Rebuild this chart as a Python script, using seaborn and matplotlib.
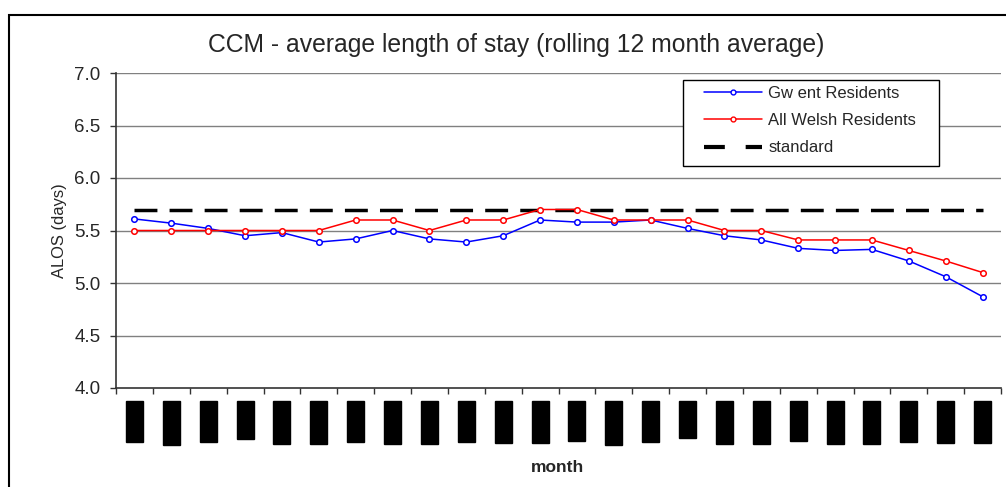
import matplotlib
matplotlib.use('Agg')
import matplotlib.pyplot as plt
from matplotlib.patches import Rectangle
from matplotlib.lines import Line2D
import seaborn as sns
import pandas as pd
import numpy as np

# Chart data
months = ['Apr-06', 'May-06', 'Jun-06', 'Jul-06', 'Aug-06', 'Sep-06', 'Oct-06', 'Nov-06',
          'Dec-06', 'Jan-07', 'Feb-07', 'Mar-07', 'Apr-07', 'May-07', 'Jun-07', 'Jul-07',
          'Aug-07', 'Sep-07', 'Oct-07', 'Nov-07', 'Dec-07', 'Jan-08', 'Feb-08', 'Mar-08']
gwent = [5.61, 5.57, 5.52, 5.45, 5.48, 5.39, 5.42, 5.50, 5.42, 5.39, 5.45, 5.60,
         5.58, 5.58, 5.60, 5.52, 5.45, 5.41, 5.33, 5.31, 5.32, 5.21, 5.06, 4.87]
all_wales = [5.50, 5.50, 5.50, 5.50, 5.50, 5.50, 5.60, 5.60, 5.50, 5.60, 5.60, 5.70,
             5.70, 5.60, 5.60, 5.60, 5.50, 5.50, 5.41, 5.41, 5.41, 5.31, 5.21, 5.10]
standard = [5.7] * len(months)

series_names = ['Gw ent Residents', 'All Welsh Residents']
series_colors = ['#0000FF', '#FF0000']

df = pd.DataFrame({
    'month': months * 2,
    'alos': gwent + all_wales,
    'series': [series_names[0]] * len(months) + [series_names[1]] * len(months),
})
df_std = pd.DataFrame({'month': months, 'alos': standard})

sns.set_style('white')
plt.rcParams['font.family'] = ['Liberation Sans', 'DejaVu Sans']

W, H = 1006, 487
fig = plt.figure(figsize=(W / 100, H / 100), dpi=100)
ax = fig.add_axes([116 / W, 1 - 388 / H, 885 / W, 315 / H])

# grid lines
for yv in np.arange(4.5, 7.01, 0.5):
    ax.axhline(yv, color='#808080', lw=1, zorder=0)

dash = (0, (6.6, 3.5))
sns.lineplot(data=df_std, x='month', y='alos', ax=ax, color='black', lw=2.5,
             linestyle=dash, sort=False, legend=False, zorder=2)
sns.lineplot(data=df, x='month', y='alos', hue='series', palette=series_colors,
             ax=ax, lw=1.1, marker='o', markersize=4, markerfacecolor='white',
             markeredgewidth=1.1, sort=False, legend=False, zorder=3)
for line, c in zip(ax.lines[-2:], series_colors):
    line.set_markeredgecolor(c)

ax.set_ylim(4.0, 7.0)
ax.set_xlim(-0.5, len(months) - 0.5)
ax.set_yticks(np.arange(4.0, 7.01, 0.5))
ax.set_yticklabels([f'{v:.1f}' for v in np.arange(4.0, 7.01, 0.5)], fontsize=13.5)

# ticks on category boundaries, labels at centers
ax.set_xticks(np.arange(-0.5, len(months), 1.0))
ax.set_xticklabels([])
ax.set_xticks(np.arange(len(months)), minor=True)
ax.set_xticklabels(months, minor=True, rotation=90, fontsize=8, color='black',
                   va='top', ha='center')
for lbl in ax.get_xticklabels(minor=True):
    lbl.set_bbox(dict(facecolor='black', edgecolor='black', pad=2.5))
ax.tick_params(axis='x', which='major', direction='out', length=4, width=1,
               color='#333333', bottom=True)
ax.tick_params(axis='x', which='minor', length=0, pad=12)
ax.tick_params(axis='y', direction='out', length=4, width=1, color='#333333',
               left=True, pad=7)

for s in ['top', 'right']:
    ax.spines[s].set_visible(False)
for s in ['left', 'bottom']:
    ax.spines[s].set_color('#333333')
    ax.spines[s].set_linewidth(1.2)

ax.set_xlabel('month', fontsize=12.5, fontweight='bold')
ax.xaxis.set_label_coords((558 - 116) / 885, -0.228)
ax.set_ylabel('ALOS (days)', fontsize=11.9)
ax.yaxis.set_label_coords(-0.055, 0.5)

fig.text(516 / W, 1 - 45 / H, 'CCM - average length of stay (rolling 12 month average)',
         ha='center', va='center', fontsize=17.8)

# legend: entries without frame, frame drawn separately
handles = [
    Line2D([], [], color=series_colors[0], lw=1.1, marker='o', markersize=3.5,
           markerfacecolor='white', markeredgecolor=series_colors[0]),
    Line2D([], [], color=series_colors[1], lw=1.1, marker='o', markersize=3.5,
           markerfacecolor='white', markeredgecolor=series_colors[1]),
    Line2D([], [], color='black', lw=3, linestyle=(0, (5, 5))),
]
leg = ax.legend(handles, series_names + ['standard'], loc='upper left',
                bbox_to_anchor=((696 - 116) / 885, (388 - 78) / 315),
                fontsize=12, frameon=False, handlelength=3.5,
                borderpad=0.45, labelspacing=0.75, handletextpad=0.4,
                borderaxespad=0)
ax.add_patch(Rectangle(((683 - 116) / 885, (388 - 166) / 315), 256 / 885, 86 / 315,
                       transform=ax.transAxes, facecolor='white', edgecolor='black',
                       lw=1, zorder=4))
leg.set_zorder(5)

# outer chart border
fig.patches.append(Rectangle((9 / W, -0.2), 1.2, 1 - 15 / H + 0.2,
                             transform=fig.transFigure, fill=False,
                             edgecolor='black', lw=1.5, figure=fig))

fig.savefig('out.png', dpi=100)
